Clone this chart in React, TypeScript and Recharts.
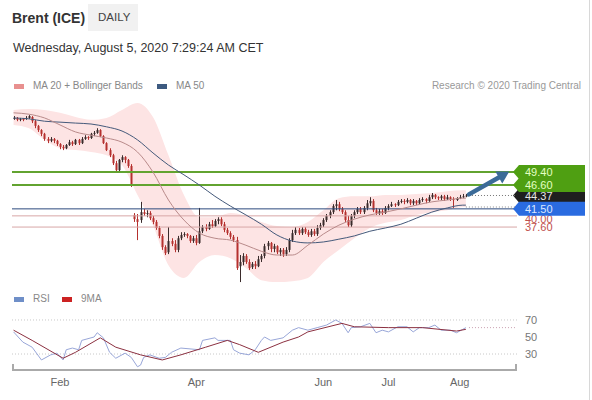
import React from "react";
import { ComposedChart, Bar, Line, Area, XAxis, YAxis, ReferenceLine } from "recharts";

const FONT = '"Liberation Sans", Arial, sans-serif';

// daily candles, Jan 13 -> Aug 5 2020 (trading days)
const opens = [
  60.8, 61.0, 60.6, 60.8, 60.8, 61.0, 61.2, 60.3, 59.3, 58.4,
  57.6, 56.5, 56.1, 56.5, 56.1, 55.4, 54.8, 54.5, 55.2, 55.8,
  55.4, 56.3, 55.6, 56.5, 56.9, 56.7, 57.6, 57.8, 58.4, 57.1,
  55.6, 54.1, 53.0, 51.3, 49.8, 52.0, 52.6, 52.0, 50.7, 40.2,
  39.3, 39.1, 40.8, 40.4, 40.6, 39.5, 38.7, 37.4, 35.7, 33.3,
  32.2, 34.6, 34.0, 32.7, 35.2, 35.9, 36.1, 35.7, 34.6, 35.2,
  34.2, 36.7, 37.6, 37.2, 38.2, 37.8, 38.9, 39.3, 38.2, 37.0,
  36.3, 35.5, 34.8, 29.2, 30.1, 31.4, 30.1, 29.0, 29.7, 29.2,
  30.7, 31.4, 33.5, 34.2, 32.9, 33.5, 32.2, 32.7, 31.8, 32.7,
  34.8, 36.3, 37.0, 36.3, 37.2, 36.5, 35.9, 36.7, 36.1, 37.4,
  38.0, 39.1, 40.0, 40.8, 42.1, 42.5, 41.5, 40.8, 39.1, 38.0,
  40.0, 40.8, 41.5, 40.8, 41.7, 42.7, 43.2, 41.2, 40.6, 41.0,
  40.6, 41.7, 42.1, 42.5, 42.3, 43.0, 43.2, 43.0, 43.4, 42.7,
  43.2, 42.7, 43.4, 43.6, 43.2, 44.0, 44.5, 44.0, 43.8, 44.2,
  43.6, 44.0, 43.6, 43.4, 43.8, 44.0, 44.2,
];
const highs = [
  61.4, 61.2, 61.0, 61.0, 61.4, 61.6, 61.4, 60.6, 59.5, 58.6,
  57.8, 56.9, 56.9, 56.7, 56.3, 55.6, 55.2, 55.4, 56.3, 56.1,
  56.5, 56.5, 56.9, 57.3, 57.1, 57.8, 58.2, 58.8, 58.6, 57.3,
  55.8, 54.5, 53.3, 51.8, 52.2, 53.0, 52.8, 52.2, 51.1, 40.6,
  40.4, 43.0, 41.5, 41.2, 41.0, 40.0, 39.1, 37.8, 36.1, 33.7,
  37.6, 35.2, 34.8, 35.7, 36.5, 36.5, 36.3, 35.9, 35.7, 35.9,
  41.7, 38.0, 38.2, 38.7, 39.1, 39.3, 39.7, 39.7, 38.7, 37.4,
  36.7, 35.9, 35.5, 31.6, 32.0, 31.8, 30.7, 30.1, 30.3, 31.4,
  31.8, 34.0, 34.6, 34.4, 34.0, 33.7, 33.1, 33.1, 33.3, 35.2,
  37.0, 37.6, 37.4, 37.6, 37.6, 37.0, 37.2, 37.2, 38.0, 38.5,
  39.5, 40.4, 41.2, 42.5, 43.4, 43.0, 41.9, 41.2, 40.0, 40.4,
  41.2, 41.9, 41.9, 42.1, 43.4, 44.0, 43.6, 41.7, 41.5, 41.5,
  42.1, 42.5, 43.0, 42.7, 43.4, 43.6, 43.6, 43.8, 43.6, 43.6,
  43.4, 43.8, 44.0, 43.8, 44.5, 44.9, 44.7, 44.2, 44.5, 44.5,
  44.5, 44.2, 44.0, 44.0, 44.5, 44.7, 44.7,
];
const lows = [
  60.6, 60.3, 60.3, 60.3, 60.6, 60.8, 59.9, 58.8, 58.0, 57.1,
  56.1, 55.6, 55.8, 55.6, 55.0, 54.3, 54.1, 54.3, 55.0, 55.0,
  55.2, 55.2, 55.4, 56.3, 56.3, 56.5, 57.1, 57.6, 56.9, 55.4,
  53.9, 52.6, 50.9, 49.2, 49.6, 51.5, 51.3, 50.3, 46.2, 38.7,
  34.8, 38.5, 40.0, 39.7, 39.1, 38.2, 37.0, 35.2, 32.7, 31.6,
  31.8, 33.5, 32.2, 32.2, 34.8, 35.5, 35.2, 34.2, 34.2, 33.7,
  34.0, 36.3, 36.7, 37.0, 37.4, 37.6, 38.2, 37.8, 36.5, 35.9,
  35.0, 34.4, 28.4, 25.8, 29.4, 29.7, 28.4, 28.6, 28.6, 29.0,
  30.1, 30.9, 32.7, 32.2, 32.2, 31.8, 31.4, 31.2, 31.4, 32.2,
  34.4, 35.9, 35.9, 35.9, 36.1, 35.5, 35.5, 35.7, 35.7, 37.0,
  37.6, 38.7, 39.5, 40.4, 41.2, 41.0, 40.4, 38.7, 37.6, 37.6,
  39.5, 40.4, 40.4, 40.4, 41.2, 42.1, 40.8, 40.2, 40.2, 40.2,
  40.4, 41.2, 41.9, 41.9, 42.1, 42.7, 42.5, 42.7, 42.3, 42.3,
  42.3, 42.5, 43.0, 42.7, 43.0, 43.6, 43.6, 43.4, 43.4, 43.2,
  43.4, 43.2, 41.7, 43.2, 43.6, 43.8, 44.0,
];
const closes = [
  61.0, 60.6, 60.8, 60.7, 61.0, 61.4, 60.3, 59.3, 58.4, 57.6,
  56.5, 56.1, 56.5, 56.1, 55.4, 54.8, 54.5, 55.2, 55.8, 55.4,
  56.3, 55.6, 56.5, 56.9, 56.7, 57.6, 57.8, 58.4, 57.1, 55.6,
  54.1, 53.0, 51.3, 49.8, 52.0, 52.6, 52.0, 50.7, 46.6, 39.3,
  38.7, 40.8, 40.4, 40.6, 39.5, 38.7, 37.4, 35.7, 33.3, 32.0,
  34.6, 34.0, 32.7, 35.2, 35.9, 36.1, 35.7, 34.6, 35.2, 34.2,
  36.7, 37.6, 37.2, 38.2, 37.8, 38.9, 39.3, 38.2, 37.0, 36.3,
  35.5, 34.8, 28.8, 30.1, 31.4, 30.1, 28.8, 29.7, 29.2, 30.7,
  31.4, 33.5, 34.2, 32.9, 33.5, 32.2, 32.7, 31.8, 32.7, 34.8,
  36.3, 37.0, 36.3, 37.2, 36.5, 35.9, 36.7, 36.1, 37.4, 38.0,
  39.1, 40.0, 40.8, 42.1, 42.5, 41.5, 40.8, 39.1, 38.0, 40.0,
  40.8, 41.5, 40.8, 41.7, 42.7, 43.2, 41.2, 40.6, 41.0, 40.6,
  41.7, 42.1, 42.5, 42.3, 43.0, 43.2, 43.0, 43.4, 42.7, 43.2,
  42.7, 43.4, 43.6, 43.2, 44.0, 44.5, 44.0, 43.8, 44.2, 43.6,
  44.0, 43.6, 43.4, 43.8, 44.0, 44.2, 44.37,
];

// indicator readings, every 5th session
const sampleIdx = [0, 5, 10, 15, 20, 25, 30, 35, 40, 45, 50, 55, 60, 65, 70, 75, 80, 85, 90, 95, 100, 105, 110, 115, 120, 125, 130, 135, 140, 145, 146];
const ma20 = [62.1, 61.8, 61.0, 59.5, 58.0, 57.3, 56.7, 55.8, 53.7, 49.4, 43.4, 39.1, 36.3, 35.2, 34.8, 33.7, 32.4, 31.6, 31.6, 33.7, 36.1, 38.0, 39.3, 40.2, 40.8, 41.5, 42.3, 43.0, 43.4, 43.8, 43.8];
const ma50 = [61.0, 60.8, 60.3, 60.1, 59.9, 59.7, 59.1, 58.2, 56.3, 53.5, 50.9, 48.8, 46.6, 44.2, 42.1, 40.2, 38.2, 35.9, 34.6, 34.2, 34.4, 35.0, 35.7, 36.7, 37.4, 38.2, 39.5, 40.8, 41.7, 42.3, 42.3];
const bandUpper = [62.7, 62.9, 62.7, 62.1, 61.2, 60.6, 61.0, 62.7, 64.2, 61.2, 53.0, 44.5, 39.7, 39.7, 40.6, 40.0, 38.7, 37.8, 37.6, 38.7, 41.2, 43.8, 44.2, 44.2, 44.5, 44.5, 44.7, 44.9, 45.3, 45.5, 45.5];
const bandLower = [59.5, 58.8, 56.3, 54.5, 54.1, 53.7, 53.0, 50.9, 44.5, 38.0, 29.4, 26.7, 30.1, 31.6, 30.9, 28.8, 26.2, 25.8, 26.0, 26.7, 30.1, 32.7, 35.2, 37.4, 38.5, 39.1, 40.2, 40.8, 41.2, 41.9, 41.9];

const rsiIdx = [0, 3, 6, 9, 12, 14, 16, 17, 19, 21, 22, 26, 27, 29, 31, 33, 36, 38, 40, 41, 42, 44, 47, 49, 51, 54, 60, 61, 65, 66, 70, 71, 73, 76, 78, 80, 81, 83, 87, 90, 92, 95, 98, 101, 104, 106, 108, 109, 112, 115, 117, 119, 121, 124, 127, 129, 131, 134, 136, 138, 141, 143, 145, 146];
const rsiVals = [56, 44, 38, 23, 29, 31, 23, 35, 37, 35, 46, 50, 55, 49, 32, 25, 31, 26, 15, 17, 26, 29, 25, 26, 32, 37, 35, 46, 49, 46, 46, 35, 31, 29, 35, 46, 50, 46, 49, 58, 61, 58, 61, 64, 70, 66, 55, 61, 62, 66, 55, 58, 56, 62, 62, 56, 61, 61, 64, 58, 58, 55, 59, 61];
const rsiMaIdx = [0, 6, 16, 20, 28, 33, 41, 48, 54, 62, 69, 73, 79, 87, 92, 95, 106, 110, 121, 132, 143, 146];
const rsiMaVals = [58, 46, 25, 32, 49, 38, 29, 23, 29, 38, 46, 41, 32, 44, 50, 56, 66, 62, 61, 61, 57, 59];

const monthTicks = [15, 59, 100, 121, 144];
const monthLabels = ["Feb", "Apr", "Jun", "Jul", "Aug"];

const TOTAL = 163; // sessions incl. empty space on the right

const rows: any[] = Array.from({ length: TOTAL }, (_, i) => {
  const r: any = { i };
  if (i < closes.length) {
    r.o = opens[i];
    r.h = highs[i];
    r.l = lows[i];
    r.c = closes[i];
    r.range = [lows[i], highs[i]];
  }
  return r;
});
sampleIdx.forEach((idx, k) => {
  rows[idx].ma20 = ma20[k];
  rows[idx].ma50 = ma50[k];
  rows[idx].band = [bandLower[k], bandUpper[k]];
});
rsiIdx.forEach((idx, k) => (rows[idx].rsi = rsiVals[k]));
rsiMaIdx.forEach((idx, k) => (rows[idx].rsiMa = rsiMaVals[k]));

const UP = "#3a2b2b";
const DOWN = "#b5302e";
const ARROW = "#3b6b98";

const Candle = (props: any) => {
  const { x, y, width, height, payload } = props;
  if (!payload || payload.o == null) return null;
  const { o, h, l, c } = payload;
  const span = h - l || 1;
  const py = (v: number) => y + ((h - v) / span) * height;
  const cx = Math.round(x + width / 2) + 0.5;
  const top = py(Math.max(o, c));
  const bot = py(Math.min(o, c));
  const col = c >= o ? UP : DOWN;
  return (
    <g>
      <line x1={cx} x2={cx} y1={y} y2={y + height} stroke={col} strokeWidth={1} />
      <rect x={cx - 1} y={top} width={2} height={Math.max(1, bot - top)} fill={col} />
    </g>
  );
};

// price tag on the right edge; dy shifts the text when tags stack
const Tag = ({ viewBox, text, bg, fg, dy = 0 }: any) => {
  if (!viewBox) return null;
  const x0 = viewBox.x + viewBox.width - 4;
  const yc = viewBox.y;
  const t = (
    <text x={x0 + 12} y={yc + dy} dy="0.36em" fill={fg} fontSize={11} fontFamily={FONT}>
      {text}
    </text>
  );
  if (!bg) return t;
  return (
    <g>
      <path d={`M${x0},${yc} L${x0 + 6},${yc - 7} L${x0 + 72},${yc - 7} L${x0 + 72},${yc + 7} L${x0 + 6},${yc + 7} Z`} fill={bg} />
      {t}
    </g>
  );
};

const ArrowShape = (p: any) => {
  const { x1, y1, x2, y2 } = p;
  const ang = Math.atan2(y2 - y1, x2 - x1);
  const L = 12;
  const W = 7;
  const bx = x2 - L * Math.cos(ang);
  const by = y2 - L * Math.sin(ang);
  const nx = -Math.sin(ang) * W;
  const ny = Math.cos(ang) * W;
  return (
    <g>
      <line x1={x1} y1={y1} x2={bx} y2={by} stroke={ARROW} strokeWidth={4.5} strokeLinecap="round" />
      <polygon points={`${x2},${y2} ${bx + nx},${by + ny} ${bx - nx},${by - ny}`} fill={ARROW} />
    </g>
  );
};

const txt = (style: React.CSSProperties): React.CSSProperties => ({
  position: "absolute",
  whiteSpace: "nowrap",
  fontFamily: FONT,
  ...style,
});

const Swatch = ({ left, top, color }: any) => (
  <div style={{ position: "absolute", left, top, width: 10, height: 5, background: color }} />
);

export default function App() {
  return (
    <div style={{ position: "absolute", left: 0, top: 0, width: 592, height: 400, background: "#fff", overflow: "hidden" }}>
      {/* header */}
      <div style={{ position: "absolute", left: 88, top: 4, width: 50, height: 27, background: "#f1f1f1" }} />
      <div style={txt({ left: 12, top: 10, fontSize: 14, fontWeight: "bold", color: "#333" })}>Brent (ICE)</div>
      <div style={txt({ left: 98, top: 11, fontSize: 11.5, color: "#444" })}>DAILY</div>
      <div style={txt({ left: 13, top: 41, fontSize: 12.5, color: "#333" })}>Wednesday, August 5, 2020 7:29:24 AM CET</div>

      {/* price legend */}
      <Swatch left={14} top={84} color="#e8908f" />
      <div style={txt({ left: 33, top: 80, fontSize: 10, color: "#888" })}>MA 20 + Bollinger Bands</div>
      <Swatch left={157} top={84} color="#3d5a80" />
      <div style={txt({ left: 176, top: 80, fontSize: 10, color: "#888" })}>MA 50</div>
      <div style={txt({ right: 11, top: 80, fontSize: 10, color: "#999" })}>Research © 2020 Trading Central</div>

      <div style={{ position: "absolute", left: 0, top: 0 }}>
        <ComposedChart width={592} height={300} data={rows} margin={{ top: 100, right: 75, left: 12, bottom: 10 }}>
          <XAxis dataKey="i" type="category" scale="band" hide />
          <YAxis hide domain={[24.1, 64.85]} allowDataOverflow />
          <Area
            dataKey="band"
            type="monotone"
            connectNulls
            stroke="none"
            fill="#fde4e4"
            fillOpacity={1}
            isAnimationActive={false}
          />
          <ReferenceLine y={37.6} stroke="#d8a6a6" strokeWidth={1} label={<Tag text="37.60" fg="#c0504d" />} />
          <ReferenceLine y={40.0} stroke="#d8a6a6" strokeWidth={1} label={<Tag text="40.00" fg="#c0504d" dy={3} />} />
          <ReferenceLine y={44.37} stroke="none" label={<Tag text="44.37" bg="#1f1f1f" fg="#e6e6e6" dy={1} />} />
          <ReferenceLine y={41.5} stroke="#2c4a7e" strokeWidth={1} label={<Tag text="41.50" bg="#2a6be0" fg="#dbe7ff" />} />
          <ReferenceLine y={46.6} stroke="#62a330" strokeWidth={2} label={<Tag text="46.60" bg="#4f9f12" fg="#e4ffc4" />} />
          <ReferenceLine y={49.4} stroke="#62a330" strokeWidth={2} label={<Tag text="49.40" bg="#4f9f12" fg="#e4ffc4" />} />
          <ReferenceLine
            segment={[{ x: 147, y: 44.37 }, { x: 162, y: 44.37 }]}
            stroke="#777"
            strokeDasharray="1 2"
          />
          <ReferenceLine
            segment={[{ x: 146, y: 41.9 }, { x: 162, y: 41.9 }]}
            stroke="#8a8a8a"
            strokeDasharray="1 2"
          />
          <Line dataKey="ma50" type="monotone" connectNulls stroke="#44597a" strokeWidth={1} dot={false} isAnimationActive={false} />
          <Line dataKey="ma20" type="monotone" connectNulls stroke="#b88a8a" strokeWidth={1} dot={false} isAnimationActive={false} />
          <Bar dataKey="range" barSize={3} shape={Candle} isAnimationActive={false} />
          <ReferenceLine segment={[{ x: 147, y: 44.6 }, { x: 160, y: 49.5 }]} shape={ArrowShape} />
        </ComposedChart>
      </div>

      {/* RSI legend */}
      <Swatch left={14} top={297} color="#6f8fc8" />
      <div style={txt({ left: 33, top: 293, fontSize: 10, color: "#888" })}>RSI</div>
      <Swatch left={62} top={297} color="#cc2222" />
      <div style={txt({ left: 81, top: 293, fontSize: 10, color: "#888" })}>9MA</div>

      <div style={{ position: "absolute", left: 0, top: 300 }}>
        <ComposedChart width={592} height={100} data={rows} margin={{ top: 5, right: 0, left: 12, bottom: 0 }}>
          <XAxis
            dataKey="i"
            type="category"
            scale="band"
            ticks={monthTicks}
            interval={0}
            tickFormatter={(v: any) => monthLabels[monthTicks.indexOf(Number(v))] ?? ""}
            tick={{ fill: "#666", fontSize: 11, fontFamily: FONT }}
            tickLine={false}
            axisLine={{ stroke: "#aaa", strokeWidth: 2 }}
            height={30}
          />
          <YAxis
            orientation="right"
            domain={[11.2, 87.6]}
            allowDataOverflow
            ticks={[30, 50, 70]}
            axisLine={false}
            tickLine={false}
            width={75}
            tick={{ fill: "#777", fontSize: 11, fontFamily: FONT }}
          />
          <ReferenceLine y={70} stroke="#c8c8c8" strokeDasharray="1 2" />
          <ReferenceLine y={30} stroke="#c8c8c8" strokeDasharray="1 2" />
          <ReferenceLine segment={[{ x: 147, y: 61 }, { x: 162, y: 61 }]} stroke="#c9a0b0" strokeDasharray="1 2" />
          <Line dataKey="rsi" type="linear" connectNulls stroke="#98a6d8" strokeWidth={1} dot={false} isAnimationActive={false} />
          <Line dataKey="rsiMa" type="linear" connectNulls stroke="#8b3040" strokeWidth={1} dot={false} isAnimationActive={false} />
        </ComposedChart>
      </div>
      <div style={{ position: "absolute", left: 12, top: 364, width: 2, height: 6, background: "#aaa" }} />
      <div style={{ position: "absolute", left: 515, top: 364, width: 2, height: 6, background: "#aaa" }} />
      <div style={{ position: "absolute", left: 589, top: 0, width: 1, height: 400, background: "#d8d8d8" }} />
    </div>
  );
}
